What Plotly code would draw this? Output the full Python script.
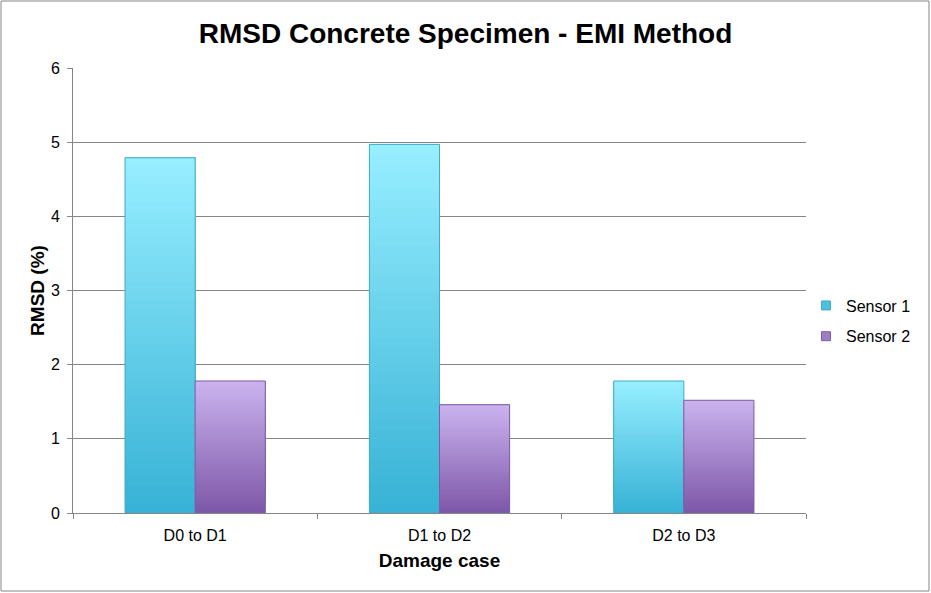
import plotly.graph_objects as go

categories = ["D0 to D1", "D1 to D2", "D2 to D3"]
sensor1 = [4.79, 4.97, 1.78]
sensor2 = [1.78, 1.46, 1.52]
series_names = ["Sensor 1", "Sensor 2"]

W, H = 931, 593
L, R, T, B = 73, 806, 68, 513  # plot area in pixels

def lerp(c1, c2, t):
    return "rgb(%d,%d,%d)" % tuple(round(a + (b - a) * t) for a, b in zip(c1, c2))

styles = [
    dict(bottom=(56, 178, 214), top=(150, 238, 255), line="#46AAC5", legend="#4DC0DC"),
    dict(bottom=(126, 88, 168), top=(202, 178, 238), line="#7E5FA6", legend="#9C7FC4"),
]

bw = 0.287
offsets = [-bw, 0.0]
N = 40

fig = go.Figure()
for s, vals in enumerate([sensor1, sensor2]):
    st = styles[s]
    for i in range(N):
        t = i / (N - 1)
        fig.add_trace(go.Bar(
            x=categories,
            base=[v * i / N for v in vals],
            y=[v * (N - i) / N for v in vals],
            width=bw, offset=offsets[s],
            marker=dict(color=lerp(st["bottom"], st["top"], t), line=dict(width=0)),
            showlegend=False, hoverinfo="skip",
        ))
    fig.add_trace(go.Bar(
        x=categories, y=vals, width=bw, offset=offsets[s], name=series_names[s],
        marker=dict(color="rgba(0,0,0,0)", line=dict(color=st["line"], width=1)),
        showlegend=False,
    ))

for s in range(2):
    fig.add_trace(go.Scatter(
        x=categories, y=[None] * 3, name=series_names[s], mode="markers",
        marker=dict(symbol="square", size=9, color=styles[s]["legend"],
                    line=dict(color=styles[s]["line"], width=1)),
        legendgroup=series_names[s], showlegend=True,
    ))

pw, ph = R - L, B - T
def px(x): return (x - L) / pw
def py(y): return (B - y) / ph

fig.add_shape(type="rect", xref="paper", yref="paper",
              x0=px(1), x1=px(929), y0=py(591), y1=py(1),
              line=dict(color="#868686", width=1), fillcolor="rgba(0,0,0,0)", layer="below")

fig.update_layout(
    width=W, height=H,
    margin=dict(l=L, r=W - R, t=T, b=H - B),
    paper_bgcolor="white", plot_bgcolor="white",
    barmode="overlay",
    font=dict(family="Liberation Sans, Arial, sans-serif", color="black", size=16),
    title=dict(text="<b>RMSD Concrete Specimen - EMI Method</b>", x=0.5, xref="container",
               y=1 - 33 / H, yref="container", yanchor="middle",
               font=dict(size=28, color="black")),
    legend=dict(x=px(806), y=py(321), xanchor="left", yanchor="middle",
                font=dict(size=16), traceorder="grouped", tracegroupgap=7,
                itemwidth=30, bgcolor="rgba(0,0,0,0)"),
    showlegend=True,
)

fig.update_xaxes(
    type="category", range=[-0.5, 2.5],
    showline=True, linecolor="#868686", linewidth=1,
    ticks="outside", tickson="boundaries", ticklen=5, tickcolor="#868686",
    tickfont=dict(size=16), showgrid=False, ticklabelstandoff=8,
    title=dict(text="<b>Damage case</b>", font=dict(size=19), standoff=10),
)
fig.update_yaxes(
    range=[0, 6], dtick=1, tick0=0,
    showline=True, linecolor="#868686", linewidth=1,
    ticks="outside", ticklen=5, tickcolor="#868686",
    showgrid=True, gridcolor="#868686", gridwidth=1,
    tickfont=dict(size=16), zeroline=False, ticklabelstandoff=4,
    title=dict(text="<b>RMSD (%)</b>", font=dict(size=19), standoff=1),
)

fig.write_html("out.html", config={"displayModeBar": False},
               post_script="document.body.style.margin='0';")
